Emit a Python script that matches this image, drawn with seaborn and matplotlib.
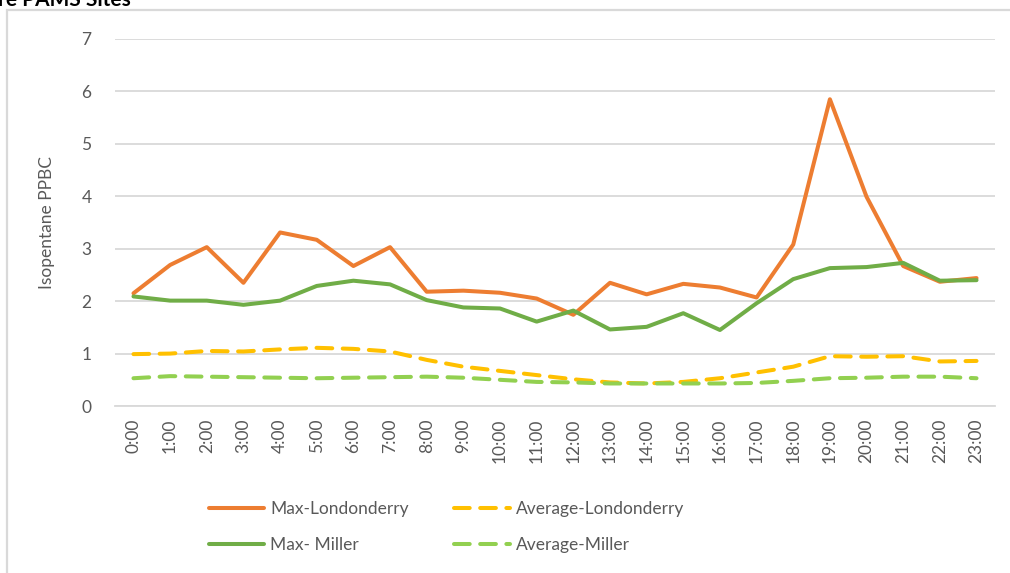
import pandas as pd
import numpy as np
import matplotlib as mpl
from matplotlib import pyplot as plt
from matplotlib.patches import Rectangle
import seaborn as sns

hours = ['%d:00' % h for h in range(24)]

max_londonderry = [2.15, 2.69, 3.03, 2.35, 3.31, 3.17, 2.67, 3.03, 2.18, 2.20, 2.16, 2.05,
                   1.74, 2.35, 2.13, 2.33, 2.26, 2.07, 3.08, 5.85, 3.99, 2.67, 2.37, 2.44]
max_miller = [2.09, 2.01, 2.01, 1.93, 2.01, 2.29, 2.39, 2.32, 2.02, 1.88, 1.86, 1.61,
              1.82, 1.46, 1.51, 1.77, 1.45, 1.96, 2.42, 2.63, 2.65, 2.73, 2.39, 2.40]
avg_londonderry = [0.99, 1.00, 1.05, 1.04, 1.08, 1.11, 1.09, 1.04, 0.88, 0.75, 0.67, 0.59,
                   0.51, 0.45, 0.43, 0.46, 0.53, 0.64, 0.75, 0.95, 0.94, 0.95, 0.85, 0.86]
avg_miller = [0.53, 0.57, 0.56, 0.55, 0.54, 0.53, 0.54, 0.55, 0.56, 0.54, 0.50, 0.46,
              0.45, 0.43, 0.43, 0.43, 0.43, 0.44, 0.48, 0.53, 0.54, 0.56, 0.56, 0.53]

sns.set_theme(style='white')
plt.rcParams['font.family'] = ['Lato', 'DejaVu Sans']

fig = plt.figure(figsize=(10.1, 5.73), dpi=100)
ax = fig.add_axes([0.114, 0.2914, 0.871, 0.6406])

# grey chart-area frame, cut off by the page on the right and bottom
fig.patches.append(Rectangle((7 / 1010, -0.2), 1.2, 1.2 - 10 / 573,
                             transform=fig.transFigure, fill=False,
                             edgecolor='#D9D9D9', linewidth=1.6))
# title of the page above, mostly cut off in the original screenshot
fig.text(-0.002, 1.0, 're PAMS Sites', fontsize=15, fontweight='bold',
         color='black', va='center', ha='left')

df = pd.DataFrame({'hour': hours,
                   'Max-Londonderry': max_londonderry,
                   'Max- Miller': max_miller,
                   'Average-Londonderry': avg_londonderry,
                   'Average-Miller': avg_miller})

series = [('Max-Londonderry', '#ED7D31', False),
          ('Max- Miller', '#70AD47', False),
          ('Average-Londonderry', '#FFC000', True),
          ('Average-Miller', '#92D050', True)]

for name, color, dashed in series:
    kw = dict(dashes=(3.9, 2.6)) if dashed else {}
    sns.lineplot(data=df, x='hour', y=name, ax=ax, color=color, linewidth=2.9,
                 label=name, sort=False, solid_capstyle='round',
                 dash_capstyle='round', **kw)

ax.set_xlim(-0.5, 23.5)
ax.set_ylim(0, 7)
ax.set_yticks(range(8))
ax.yaxis.grid(True, color='#D9D9D9', linewidth=1.3)
ax.xaxis.grid(False)
ax.set_axisbelow(True)
for s in ['top', 'right', 'left']:
    ax.spines[s].set_visible(False)
ax.spines['bottom'].set_color('#D9D9D9')
ax.spines['bottom'].set_linewidth(1.3)
ax.tick_params(axis='both', length=0, colors='#595959', labelsize=12.5)
ax.tick_params(axis='y', pad=17)
ax.tick_params(axis='x', pad=9)
plt.setp(ax.get_xticklabels(), rotation=90)
ax.set_xlabel('')
ax.set_ylabel('Isopentane PPBC', color='#595959', fontsize=12.5, labelpad=19)

ax.legend(loc='center', bbox_to_anchor=(0.442, 0.08), bbox_transform=fig.transFigure,
          ncol=2, frameon=False, fontsize=12.5, handlelength=3.2, handletextpad=0.35,
          columnspacing=2.6, labelspacing=1.15, labelcolor='#595959')

fig.savefig('out.png', dpi=100)
